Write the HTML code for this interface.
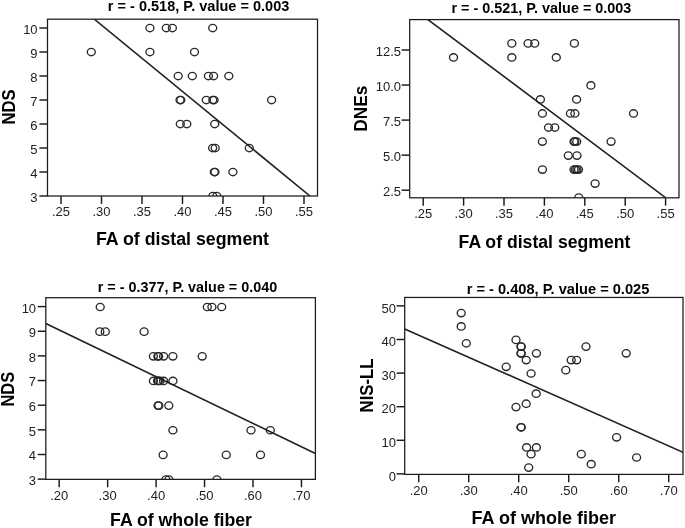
<!DOCTYPE html>
<html><head><meta charset="utf-8"><title>Scatter plots</title>
<style>
html,body{margin:0;padding:0;background:#fff;}
body{width:685px;height:528px;overflow:hidden;}
svg{display:block;font-family:"Liberation Sans", sans-serif;filter:grayscale(1);}
</style></head><body>
<svg width="685" height="528" viewBox="0 0 685 528">
<rect width="685" height="528" fill="#fff"/>
<line x1="39.4" y1="196" x2="47.5" y2="196" stroke="#1a1a1a" stroke-width="1.45"/>
<text x="37.6" y="202.3" font-size="13" text-anchor="end" fill="#222">3</text>
<line x1="39.4" y1="172" x2="47.5" y2="172" stroke="#1a1a1a" stroke-width="1.45"/>
<text x="37.6" y="178.3" font-size="13" text-anchor="end" fill="#222">4</text>
<line x1="39.4" y1="148" x2="47.5" y2="148" stroke="#1a1a1a" stroke-width="1.45"/>
<text x="37.6" y="154.3" font-size="13" text-anchor="end" fill="#222">5</text>
<line x1="39.4" y1="124" x2="47.5" y2="124" stroke="#1a1a1a" stroke-width="1.45"/>
<text x="37.6" y="130.3" font-size="13" text-anchor="end" fill="#222">6</text>
<line x1="39.4" y1="100" x2="47.5" y2="100" stroke="#1a1a1a" stroke-width="1.45"/>
<text x="37.6" y="106.3" font-size="13" text-anchor="end" fill="#222">7</text>
<line x1="39.4" y1="76" x2="47.5" y2="76" stroke="#1a1a1a" stroke-width="1.45"/>
<text x="37.6" y="82.3" font-size="13" text-anchor="end" fill="#222">8</text>
<line x1="39.4" y1="52" x2="47.5" y2="52" stroke="#1a1a1a" stroke-width="1.45"/>
<text x="37.6" y="58.3" font-size="13" text-anchor="end" fill="#222">9</text>
<line x1="39.4" y1="28" x2="47.5" y2="28" stroke="#1a1a1a" stroke-width="1.45"/>
<text x="37.6" y="34.3" font-size="13" text-anchor="end" fill="#222">10</text>
<line x1="61" y1="196" x2="61" y2="203.9" stroke="#1a1a1a" stroke-width="1.45"/>
<text x="61" y="216" font-size="13" text-anchor="middle" fill="#222">.25</text>
<line x1="101.5" y1="196" x2="101.5" y2="203.9" stroke="#1a1a1a" stroke-width="1.45"/>
<text x="101.5" y="216" font-size="13" text-anchor="middle" fill="#222">.30</text>
<line x1="142" y1="196" x2="142" y2="203.9" stroke="#1a1a1a" stroke-width="1.45"/>
<text x="142" y="216" font-size="13" text-anchor="middle" fill="#222">.35</text>
<line x1="182.5" y1="196" x2="182.5" y2="203.9" stroke="#1a1a1a" stroke-width="1.45"/>
<text x="182.5" y="216" font-size="13" text-anchor="middle" fill="#222">.40</text>
<line x1="223" y1="196" x2="223" y2="203.9" stroke="#1a1a1a" stroke-width="1.45"/>
<text x="223" y="216" font-size="13" text-anchor="middle" fill="#222">.45</text>
<line x1="263.5" y1="196" x2="263.5" y2="203.9" stroke="#1a1a1a" stroke-width="1.45"/>
<text x="263.5" y="216" font-size="13" text-anchor="middle" fill="#222">.50</text>
<line x1="304" y1="196" x2="304" y2="203.9" stroke="#1a1a1a" stroke-width="1.45"/>
<text x="304" y="216" font-size="13" text-anchor="middle" fill="#222">.55</text>
<clipPath id="c0"><rect x="47.5" y="19.2" width="270" height="176.8"/></clipPath>
<g clip-path="url(#c0)">
<ellipse cx="149.9" cy="28" rx="4.0" ry="3.7" fill="none" stroke="#2a2a2a" stroke-width="1.35"/>
<ellipse cx="166.3" cy="28" rx="4.0" ry="3.7" fill="none" stroke="#2a2a2a" stroke-width="1.35"/>
<ellipse cx="172.4" cy="28" rx="4.0" ry="3.7" fill="none" stroke="#2a2a2a" stroke-width="1.35"/>
<ellipse cx="212.7" cy="28" rx="4.0" ry="3.7" fill="none" stroke="#2a2a2a" stroke-width="1.35"/>
<ellipse cx="91.3" cy="52" rx="4.0" ry="3.7" fill="none" stroke="#2a2a2a" stroke-width="1.35"/>
<ellipse cx="149.9" cy="52" rx="4.0" ry="3.7" fill="none" stroke="#2a2a2a" stroke-width="1.35"/>
<ellipse cx="194.5" cy="52" rx="4.0" ry="3.7" fill="none" stroke="#2a2a2a" stroke-width="1.35"/>
<ellipse cx="178.2" cy="76" rx="4.0" ry="3.7" fill="none" stroke="#2a2a2a" stroke-width="1.35"/>
<ellipse cx="192.3" cy="76" rx="4.0" ry="3.7" fill="none" stroke="#2a2a2a" stroke-width="1.35"/>
<ellipse cx="208.4" cy="76" rx="4.0" ry="3.7" fill="none" stroke="#2a2a2a" stroke-width="1.35"/>
<ellipse cx="213.6" cy="76" rx="4.0" ry="3.7" fill="none" stroke="#2a2a2a" stroke-width="1.35"/>
<ellipse cx="228.8" cy="76" rx="4.0" ry="3.7" fill="none" stroke="#2a2a2a" stroke-width="1.35"/>
<ellipse cx="180" cy="100" rx="4.0" ry="3.7" fill="none" stroke="#2a2a2a" stroke-width="1.35"/>
<ellipse cx="180.8" cy="100" rx="4.0" ry="3.7" fill="none" stroke="#2a2a2a" stroke-width="1.35"/>
<ellipse cx="206.3" cy="100" rx="4.0" ry="3.7" fill="none" stroke="#2a2a2a" stroke-width="1.35"/>
<ellipse cx="212.8" cy="100" rx="4.0" ry="3.7" fill="none" stroke="#2a2a2a" stroke-width="1.35"/>
<ellipse cx="214.1" cy="100" rx="4.0" ry="3.7" fill="none" stroke="#2a2a2a" stroke-width="1.35"/>
<ellipse cx="271.6" cy="100" rx="4.0" ry="3.7" fill="none" stroke="#2a2a2a" stroke-width="1.35"/>
<ellipse cx="180.3" cy="124" rx="4.0" ry="3.7" fill="none" stroke="#2a2a2a" stroke-width="1.35"/>
<ellipse cx="186.8" cy="124" rx="4.0" ry="3.7" fill="none" stroke="#2a2a2a" stroke-width="1.35"/>
<ellipse cx="214.7" cy="124" rx="4.0" ry="3.7" fill="none" stroke="#2a2a2a" stroke-width="1.35"/>
<ellipse cx="212.6" cy="148" rx="4.0" ry="3.7" fill="none" stroke="#2a2a2a" stroke-width="1.35"/>
<ellipse cx="215.2" cy="148" rx="4.0" ry="3.7" fill="none" stroke="#2a2a2a" stroke-width="1.35"/>
<ellipse cx="249.3" cy="148" rx="4.0" ry="3.7" fill="none" stroke="#2a2a2a" stroke-width="1.35"/>
<ellipse cx="214.3" cy="172" rx="4.0" ry="3.7" fill="none" stroke="#2a2a2a" stroke-width="1.35"/>
<ellipse cx="215" cy="172" rx="4.0" ry="3.7" fill="none" stroke="#2a2a2a" stroke-width="1.35"/>
<ellipse cx="232.9" cy="172" rx="4.0" ry="3.7" fill="none" stroke="#2a2a2a" stroke-width="1.35"/>
<ellipse cx="212.8" cy="196" rx="4.0" ry="3.7" fill="none" stroke="#2a2a2a" stroke-width="1.35"/>
<ellipse cx="216.8" cy="196" rx="4.0" ry="3.7" fill="none" stroke="#2a2a2a" stroke-width="1.35"/>
<line x1="94.3" y1="19.2" x2="310" y2="196" stroke="#202020" stroke-width="1.6"/>
</g>
<rect x="47.5" y="19.2" width="270" height="176.8" fill="none" stroke="#1a1a1a" stroke-width="1.25"/>
<text x="107.8" y="11.4" font-size="15" font-weight="bold" textLength="181.55" lengthAdjust="spacingAndGlyphs">r = - 0.518, P. value = 0.003</text>
<text x="96" y="244.9" font-size="17.5" font-weight="bold" textLength="173.03" lengthAdjust="spacingAndGlyphs">FA of distal segment</text>
<text transform="translate(15.3,124.47) rotate(-90)" x="0" y="0" font-size="18" font-weight="bold" textLength="35.11" lengthAdjust="spacingAndGlyphs">NDS</text>
<line x1="401.6" y1="190.2" x2="409.7" y2="190.2" stroke="#1a1a1a" stroke-width="1.45"/>
<text x="401" y="196" font-size="13" text-anchor="end" fill="#222">2.5</text>
<line x1="401.6" y1="155.15" x2="409.7" y2="155.15" stroke="#1a1a1a" stroke-width="1.45"/>
<text x="401" y="160.95" font-size="13" text-anchor="end" fill="#222">5.0</text>
<line x1="401.6" y1="120.1" x2="409.7" y2="120.1" stroke="#1a1a1a" stroke-width="1.45"/>
<text x="401" y="125.9" font-size="13" text-anchor="end" fill="#222">7.5</text>
<line x1="401.6" y1="85.05" x2="409.7" y2="85.05" stroke="#1a1a1a" stroke-width="1.45"/>
<text x="401" y="90.85" font-size="13" text-anchor="end" fill="#222">10.0</text>
<line x1="401.6" y1="50" x2="409.7" y2="50" stroke="#1a1a1a" stroke-width="1.45"/>
<text x="401" y="55.8" font-size="13" text-anchor="end" fill="#222">12.5</text>
<line x1="423.2" y1="197.8" x2="423.2" y2="205.7" stroke="#1a1a1a" stroke-width="1.45"/>
<text x="423.2" y="218" font-size="13" text-anchor="middle" fill="#222">.25</text>
<line x1="463.6" y1="197.8" x2="463.6" y2="205.7" stroke="#1a1a1a" stroke-width="1.45"/>
<text x="463.6" y="218" font-size="13" text-anchor="middle" fill="#222">.30</text>
<line x1="504" y1="197.8" x2="504" y2="205.7" stroke="#1a1a1a" stroke-width="1.45"/>
<text x="504" y="218" font-size="13" text-anchor="middle" fill="#222">.35</text>
<line x1="544.4" y1="197.8" x2="544.4" y2="205.7" stroke="#1a1a1a" stroke-width="1.45"/>
<text x="544.4" y="218" font-size="13" text-anchor="middle" fill="#222">.40</text>
<line x1="584.8" y1="197.8" x2="584.8" y2="205.7" stroke="#1a1a1a" stroke-width="1.45"/>
<text x="584.8" y="218" font-size="13" text-anchor="middle" fill="#222">.45</text>
<line x1="625.2" y1="197.8" x2="625.2" y2="205.7" stroke="#1a1a1a" stroke-width="1.45"/>
<text x="625.2" y="218" font-size="13" text-anchor="middle" fill="#222">.50</text>
<line x1="665.6" y1="197.8" x2="665.6" y2="205.7" stroke="#1a1a1a" stroke-width="1.45"/>
<text x="665.6" y="218" font-size="13" text-anchor="middle" fill="#222">.55</text>
<clipPath id="c1"><rect x="409.7" y="19.6" width="269.3" height="178.2"/></clipPath>
<g clip-path="url(#c1)">
<ellipse cx="511.8" cy="43.39" rx="4.0" ry="3.7" fill="none" stroke="#2a2a2a" stroke-width="1.35"/>
<ellipse cx="528.1" cy="43.39" rx="4.0" ry="3.7" fill="none" stroke="#2a2a2a" stroke-width="1.35"/>
<ellipse cx="534.7" cy="43.39" rx="4.0" ry="3.7" fill="none" stroke="#2a2a2a" stroke-width="1.35"/>
<ellipse cx="574.4" cy="43.39" rx="4.0" ry="3.7" fill="none" stroke="#2a2a2a" stroke-width="1.35"/>
<ellipse cx="453.5" cy="57.41" rx="4.0" ry="3.7" fill="none" stroke="#2a2a2a" stroke-width="1.35"/>
<ellipse cx="511.8" cy="57.41" rx="4.0" ry="3.7" fill="none" stroke="#2a2a2a" stroke-width="1.35"/>
<ellipse cx="556.3" cy="57.41" rx="4.0" ry="3.7" fill="none" stroke="#2a2a2a" stroke-width="1.35"/>
<ellipse cx="590.9" cy="85.45" rx="4.0" ry="3.7" fill="none" stroke="#2a2a2a" stroke-width="1.35"/>
<ellipse cx="540.4" cy="99.47" rx="4.0" ry="3.7" fill="none" stroke="#2a2a2a" stroke-width="1.35"/>
<ellipse cx="576.6" cy="99.47" rx="4.0" ry="3.7" fill="none" stroke="#2a2a2a" stroke-width="1.35"/>
<ellipse cx="542.4" cy="113.49" rx="4.0" ry="3.7" fill="none" stroke="#2a2a2a" stroke-width="1.35"/>
<ellipse cx="570.4" cy="113.49" rx="4.0" ry="3.7" fill="none" stroke="#2a2a2a" stroke-width="1.35"/>
<ellipse cx="574.9" cy="113.49" rx="4.0" ry="3.7" fill="none" stroke="#2a2a2a" stroke-width="1.35"/>
<ellipse cx="633.5" cy="113.49" rx="4.0" ry="3.7" fill="none" stroke="#2a2a2a" stroke-width="1.35"/>
<ellipse cx="548.5" cy="127.51" rx="4.0" ry="3.7" fill="none" stroke="#2a2a2a" stroke-width="1.35"/>
<ellipse cx="554.8" cy="127.51" rx="4.0" ry="3.7" fill="none" stroke="#2a2a2a" stroke-width="1.35"/>
<ellipse cx="542.4" cy="141.53" rx="4.0" ry="3.7" fill="none" stroke="#2a2a2a" stroke-width="1.35"/>
<ellipse cx="574" cy="141.53" rx="4.0" ry="3.7" fill="none" stroke="#2a2a2a" stroke-width="1.35"/>
<ellipse cx="574.8" cy="141.53" rx="4.0" ry="3.7" fill="none" stroke="#2a2a2a" stroke-width="1.35"/>
<ellipse cx="576.7" cy="141.53" rx="4.0" ry="3.7" fill="none" stroke="#2a2a2a" stroke-width="1.35"/>
<ellipse cx="611.1" cy="141.53" rx="4.0" ry="3.7" fill="none" stroke="#2a2a2a" stroke-width="1.35"/>
<ellipse cx="568.3" cy="155.55" rx="4.0" ry="3.7" fill="none" stroke="#2a2a2a" stroke-width="1.35"/>
<ellipse cx="577" cy="155.55" rx="4.0" ry="3.7" fill="none" stroke="#2a2a2a" stroke-width="1.35"/>
<ellipse cx="542.4" cy="169.57" rx="4.0" ry="3.7" fill="none" stroke="#2a2a2a" stroke-width="1.35"/>
<ellipse cx="574" cy="169.57" rx="4.0" ry="3.7" fill="none" stroke="#2a2a2a" stroke-width="1.35"/>
<ellipse cx="575.5" cy="169.57" rx="4.0" ry="3.7" fill="none" stroke="#2a2a2a" stroke-width="1.35"/>
<ellipse cx="577" cy="169.57" rx="4.0" ry="3.7" fill="none" stroke="#2a2a2a" stroke-width="1.35"/>
<ellipse cx="578.5" cy="169.57" rx="4.0" ry="3.7" fill="none" stroke="#2a2a2a" stroke-width="1.35"/>
<ellipse cx="595.1" cy="183.59" rx="4.0" ry="3.7" fill="none" stroke="#2a2a2a" stroke-width="1.35"/>
<ellipse cx="578.8" cy="197.61" rx="4.0" ry="3.7" fill="none" stroke="#2a2a2a" stroke-width="1.35"/>
<line x1="427.9" y1="19.6" x2="665.8" y2="197.8" stroke="#202020" stroke-width="1.6"/>
</g>
<rect x="409.7" y="19.6" width="269.3" height="178.2" fill="none" stroke="#1a1a1a" stroke-width="1.25"/>
<text x="451.5" y="12.6" font-size="15" font-weight="bold" textLength="179.85" lengthAdjust="spacingAndGlyphs">r = - 0.521, P. value = 0.003</text>
<text x="458.6" y="247.6" font-size="17.5" font-weight="bold" textLength="171.82" lengthAdjust="spacingAndGlyphs">FA of distal segment</text>
<text transform="translate(367,131.72) rotate(-90)" x="0" y="0" font-size="18" font-weight="bold" textLength="46.01" lengthAdjust="spacingAndGlyphs">DNEs</text>
<line x1="37.7" y1="479.15" x2="45.8" y2="479.15" stroke="#1a1a1a" stroke-width="1.45"/>
<text x="36.1" y="485.05" font-size="13" text-anchor="end" fill="#222">3</text>
<line x1="37.7" y1="454.5" x2="45.8" y2="454.5" stroke="#1a1a1a" stroke-width="1.45"/>
<text x="36.1" y="460.4" font-size="13" text-anchor="end" fill="#222">4</text>
<line x1="37.7" y1="429.85" x2="45.8" y2="429.85" stroke="#1a1a1a" stroke-width="1.45"/>
<text x="36.1" y="435.75" font-size="13" text-anchor="end" fill="#222">5</text>
<line x1="37.7" y1="405.2" x2="45.8" y2="405.2" stroke="#1a1a1a" stroke-width="1.45"/>
<text x="36.1" y="411.1" font-size="13" text-anchor="end" fill="#222">6</text>
<line x1="37.7" y1="380.55" x2="45.8" y2="380.55" stroke="#1a1a1a" stroke-width="1.45"/>
<text x="36.1" y="386.45" font-size="13" text-anchor="end" fill="#222">7</text>
<line x1="37.7" y1="355.9" x2="45.8" y2="355.9" stroke="#1a1a1a" stroke-width="1.45"/>
<text x="36.1" y="361.8" font-size="13" text-anchor="end" fill="#222">8</text>
<line x1="37.7" y1="331.25" x2="45.8" y2="331.25" stroke="#1a1a1a" stroke-width="1.45"/>
<text x="36.1" y="337.15" font-size="13" text-anchor="end" fill="#222">9</text>
<line x1="37.7" y1="306.6" x2="45.8" y2="306.6" stroke="#1a1a1a" stroke-width="1.45"/>
<text x="36.1" y="312.5" font-size="13" text-anchor="end" fill="#222">10</text>
<line x1="59.2" y1="479.35" x2="59.2" y2="487.25" stroke="#1a1a1a" stroke-width="1.45"/>
<text x="59.2" y="499.6" font-size="13" text-anchor="middle" fill="#222">.20</text>
<line x1="107.65" y1="479.35" x2="107.65" y2="487.25" stroke="#1a1a1a" stroke-width="1.45"/>
<text x="107.65" y="499.6" font-size="13" text-anchor="middle" fill="#222">.30</text>
<line x1="156.1" y1="479.35" x2="156.1" y2="487.25" stroke="#1a1a1a" stroke-width="1.45"/>
<text x="156.1" y="499.6" font-size="13" text-anchor="middle" fill="#222">.40</text>
<line x1="204.55" y1="479.35" x2="204.55" y2="487.25" stroke="#1a1a1a" stroke-width="1.45"/>
<text x="204.55" y="499.6" font-size="13" text-anchor="middle" fill="#222">.50</text>
<line x1="253" y1="479.35" x2="253" y2="487.25" stroke="#1a1a1a" stroke-width="1.45"/>
<text x="253" y="499.6" font-size="13" text-anchor="middle" fill="#222">.60</text>
<line x1="301.45" y1="479.35" x2="301.45" y2="487.25" stroke="#1a1a1a" stroke-width="1.45"/>
<text x="301.45" y="499.6" font-size="13" text-anchor="middle" fill="#222">.70</text>
<clipPath id="c2"><rect x="45.8" y="297.7" width="269.6" height="181.65"/></clipPath>
<g clip-path="url(#c2)">
<ellipse cx="100.2" cy="307" rx="4.0" ry="3.7" fill="none" stroke="#2a2a2a" stroke-width="1.35"/>
<ellipse cx="207.3" cy="307" rx="4.0" ry="3.7" fill="none" stroke="#2a2a2a" stroke-width="1.35"/>
<ellipse cx="211.9" cy="307" rx="4.0" ry="3.7" fill="none" stroke="#2a2a2a" stroke-width="1.35"/>
<ellipse cx="221.7" cy="307" rx="4.0" ry="3.7" fill="none" stroke="#2a2a2a" stroke-width="1.35"/>
<ellipse cx="99.8" cy="331.65" rx="4.0" ry="3.7" fill="none" stroke="#2a2a2a" stroke-width="1.35"/>
<ellipse cx="105.3" cy="331.65" rx="4.0" ry="3.7" fill="none" stroke="#2a2a2a" stroke-width="1.35"/>
<ellipse cx="144.1" cy="331.65" rx="4.0" ry="3.7" fill="none" stroke="#2a2a2a" stroke-width="1.35"/>
<ellipse cx="153.4" cy="356.3" rx="4.0" ry="3.7" fill="none" stroke="#2a2a2a" stroke-width="1.35"/>
<ellipse cx="157.8" cy="356.3" rx="4.0" ry="3.7" fill="none" stroke="#2a2a2a" stroke-width="1.35"/>
<ellipse cx="158.6" cy="356.3" rx="4.0" ry="3.7" fill="none" stroke="#2a2a2a" stroke-width="1.35"/>
<ellipse cx="163.6" cy="356.3" rx="4.0" ry="3.7" fill="none" stroke="#2a2a2a" stroke-width="1.35"/>
<ellipse cx="172.9" cy="356.3" rx="4.0" ry="3.7" fill="none" stroke="#2a2a2a" stroke-width="1.35"/>
<ellipse cx="202.2" cy="356.3" rx="4.0" ry="3.7" fill="none" stroke="#2a2a2a" stroke-width="1.35"/>
<ellipse cx="153.4" cy="380.95" rx="4.0" ry="3.7" fill="none" stroke="#2a2a2a" stroke-width="1.35"/>
<ellipse cx="157.6" cy="380.95" rx="4.0" ry="3.7" fill="none" stroke="#2a2a2a" stroke-width="1.35"/>
<ellipse cx="158.4" cy="380.95" rx="4.0" ry="3.7" fill="none" stroke="#2a2a2a" stroke-width="1.35"/>
<ellipse cx="160" cy="380.95" rx="4.0" ry="3.7" fill="none" stroke="#2a2a2a" stroke-width="1.35"/>
<ellipse cx="163.6" cy="380.95" rx="4.0" ry="3.7" fill="none" stroke="#2a2a2a" stroke-width="1.35"/>
<ellipse cx="172.9" cy="380.95" rx="4.0" ry="3.7" fill="none" stroke="#2a2a2a" stroke-width="1.35"/>
<ellipse cx="158" cy="405.6" rx="4.0" ry="3.7" fill="none" stroke="#2a2a2a" stroke-width="1.35"/>
<ellipse cx="158.8" cy="405.6" rx="4.0" ry="3.7" fill="none" stroke="#2a2a2a" stroke-width="1.35"/>
<ellipse cx="168.8" cy="405.6" rx="4.0" ry="3.7" fill="none" stroke="#2a2a2a" stroke-width="1.35"/>
<ellipse cx="172.9" cy="430.25" rx="4.0" ry="3.7" fill="none" stroke="#2a2a2a" stroke-width="1.35"/>
<ellipse cx="251" cy="430.25" rx="4.0" ry="3.7" fill="none" stroke="#2a2a2a" stroke-width="1.35"/>
<ellipse cx="270.3" cy="430.25" rx="4.0" ry="3.7" fill="none" stroke="#2a2a2a" stroke-width="1.35"/>
<ellipse cx="163.1" cy="454.9" rx="4.0" ry="3.7" fill="none" stroke="#2a2a2a" stroke-width="1.35"/>
<ellipse cx="226.3" cy="454.9" rx="4.0" ry="3.7" fill="none" stroke="#2a2a2a" stroke-width="1.35"/>
<ellipse cx="260.5" cy="454.9" rx="4.0" ry="3.7" fill="none" stroke="#2a2a2a" stroke-width="1.35"/>
<ellipse cx="165.9" cy="479.55" rx="4.0" ry="3.7" fill="none" stroke="#2a2a2a" stroke-width="1.35"/>
<ellipse cx="168.9" cy="479.55" rx="4.0" ry="3.7" fill="none" stroke="#2a2a2a" stroke-width="1.35"/>
<ellipse cx="216.9" cy="479.55" rx="4.0" ry="3.7" fill="none" stroke="#2a2a2a" stroke-width="1.35"/>
<line x1="45.8" y1="323.5" x2="315.4" y2="453.5" stroke="#202020" stroke-width="1.6"/>
</g>
<rect x="45.8" y="297.7" width="269.6" height="181.65" fill="none" stroke="#1a1a1a" stroke-width="1.25"/>
<text x="97.7" y="291.8" font-size="15" font-weight="bold" textLength="179.55" lengthAdjust="spacingAndGlyphs">r = - 0.377, P. value = 0.040</text>
<text x="110.1" y="526.3" font-size="17.5" font-weight="bold" textLength="141.92" lengthAdjust="spacingAndGlyphs">FA of whole fiber</text>
<text transform="translate(13.8,406.52) rotate(-90)" x="0" y="0" font-size="18" font-weight="bold" textLength="34.76" lengthAdjust="spacingAndGlyphs">NDS</text>
<line x1="396.6" y1="473.9" x2="404.7" y2="473.9" stroke="#1a1a1a" stroke-width="1.45"/>
<text x="395.9" y="480.5" font-size="13" text-anchor="end" fill="#222">0</text>
<line x1="396.6" y1="440.3" x2="404.7" y2="440.3" stroke="#1a1a1a" stroke-width="1.45"/>
<text x="395.9" y="446.9" font-size="13" text-anchor="end" fill="#222">10</text>
<line x1="396.6" y1="406.7" x2="404.7" y2="406.7" stroke="#1a1a1a" stroke-width="1.45"/>
<text x="395.9" y="413.3" font-size="13" text-anchor="end" fill="#222">20</text>
<line x1="396.6" y1="373.1" x2="404.7" y2="373.1" stroke="#1a1a1a" stroke-width="1.45"/>
<text x="395.9" y="379.7" font-size="13" text-anchor="end" fill="#222">30</text>
<line x1="396.6" y1="339.5" x2="404.7" y2="339.5" stroke="#1a1a1a" stroke-width="1.45"/>
<text x="395.9" y="346.1" font-size="13" text-anchor="end" fill="#222">40</text>
<line x1="396.6" y1="305.9" x2="404.7" y2="305.9" stroke="#1a1a1a" stroke-width="1.45"/>
<text x="395.9" y="312.5" font-size="13" text-anchor="end" fill="#222">50</text>
<line x1="418.7" y1="474.4" x2="418.7" y2="482.3" stroke="#1a1a1a" stroke-width="1.45"/>
<text x="418.7" y="494.6" font-size="13" text-anchor="middle" fill="#222">.20</text>
<line x1="468.7" y1="474.4" x2="468.7" y2="482.3" stroke="#1a1a1a" stroke-width="1.45"/>
<text x="468.7" y="494.6" font-size="13" text-anchor="middle" fill="#222">.30</text>
<line x1="518.7" y1="474.4" x2="518.7" y2="482.3" stroke="#1a1a1a" stroke-width="1.45"/>
<text x="518.7" y="494.6" font-size="13" text-anchor="middle" fill="#222">.40</text>
<line x1="568.7" y1="474.4" x2="568.7" y2="482.3" stroke="#1a1a1a" stroke-width="1.45"/>
<text x="568.7" y="494.6" font-size="13" text-anchor="middle" fill="#222">.50</text>
<line x1="618.7" y1="474.4" x2="618.7" y2="482.3" stroke="#1a1a1a" stroke-width="1.45"/>
<text x="618.7" y="494.6" font-size="13" text-anchor="middle" fill="#222">.60</text>
<line x1="668.7" y1="474.4" x2="668.7" y2="482.3" stroke="#1a1a1a" stroke-width="1.45"/>
<text x="668.7" y="494.6" font-size="13" text-anchor="middle" fill="#222">.70</text>
<clipPath id="c3"><rect x="404.7" y="297.45" width="278.3" height="176.95"/></clipPath>
<g clip-path="url(#c3)">
<ellipse cx="461.2" cy="313.02" rx="4.0" ry="3.7" fill="none" stroke="#2a2a2a" stroke-width="1.35"/>
<ellipse cx="461.2" cy="326.46" rx="4.0" ry="3.7" fill="none" stroke="#2a2a2a" stroke-width="1.35"/>
<ellipse cx="466.3" cy="343.26" rx="4.0" ry="3.7" fill="none" stroke="#2a2a2a" stroke-width="1.35"/>
<ellipse cx="516" cy="339.9" rx="4.0" ry="3.7" fill="none" stroke="#2a2a2a" stroke-width="1.35"/>
<ellipse cx="520.9" cy="346.62" rx="4.0" ry="3.7" fill="none" stroke="#2a2a2a" stroke-width="1.35"/>
<ellipse cx="521.3" cy="346.62" rx="4.0" ry="3.7" fill="none" stroke="#2a2a2a" stroke-width="1.35"/>
<ellipse cx="520.9" cy="353.34" rx="4.0" ry="3.7" fill="none" stroke="#2a2a2a" stroke-width="1.35"/>
<ellipse cx="521.3" cy="353.34" rx="4.0" ry="3.7" fill="none" stroke="#2a2a2a" stroke-width="1.35"/>
<ellipse cx="526.2" cy="360.06" rx="4.0" ry="3.7" fill="none" stroke="#2a2a2a" stroke-width="1.35"/>
<ellipse cx="536.4" cy="353.34" rx="4.0" ry="3.7" fill="none" stroke="#2a2a2a" stroke-width="1.35"/>
<ellipse cx="506.2" cy="366.78" rx="4.0" ry="3.7" fill="none" stroke="#2a2a2a" stroke-width="1.35"/>
<ellipse cx="531.1" cy="373.5" rx="4.0" ry="3.7" fill="none" stroke="#2a2a2a" stroke-width="1.35"/>
<ellipse cx="586" cy="346.62" rx="4.0" ry="3.7" fill="none" stroke="#2a2a2a" stroke-width="1.35"/>
<ellipse cx="626.2" cy="353.34" rx="4.0" ry="3.7" fill="none" stroke="#2a2a2a" stroke-width="1.35"/>
<ellipse cx="571.2" cy="360.06" rx="4.0" ry="3.7" fill="none" stroke="#2a2a2a" stroke-width="1.35"/>
<ellipse cx="576.6" cy="360.06" rx="4.0" ry="3.7" fill="none" stroke="#2a2a2a" stroke-width="1.35"/>
<ellipse cx="565.8" cy="370.14" rx="4.0" ry="3.7" fill="none" stroke="#2a2a2a" stroke-width="1.35"/>
<ellipse cx="536.2" cy="393.66" rx="4.0" ry="3.7" fill="none" stroke="#2a2a2a" stroke-width="1.35"/>
<ellipse cx="526.2" cy="403.74" rx="4.0" ry="3.7" fill="none" stroke="#2a2a2a" stroke-width="1.35"/>
<ellipse cx="516" cy="407.1" rx="4.0" ry="3.7" fill="none" stroke="#2a2a2a" stroke-width="1.35"/>
<ellipse cx="520.9" cy="427.26" rx="4.0" ry="3.7" fill="none" stroke="#2a2a2a" stroke-width="1.35"/>
<ellipse cx="521.3" cy="427.26" rx="4.0" ry="3.7" fill="none" stroke="#2a2a2a" stroke-width="1.35"/>
<ellipse cx="526.6" cy="447.42" rx="4.0" ry="3.7" fill="none" stroke="#2a2a2a" stroke-width="1.35"/>
<ellipse cx="536.4" cy="447.42" rx="4.0" ry="3.7" fill="none" stroke="#2a2a2a" stroke-width="1.35"/>
<ellipse cx="531.1" cy="454.14" rx="4.0" ry="3.7" fill="none" stroke="#2a2a2a" stroke-width="1.35"/>
<ellipse cx="528.7" cy="467.58" rx="4.0" ry="3.7" fill="none" stroke="#2a2a2a" stroke-width="1.35"/>
<ellipse cx="616.6" cy="437.34" rx="4.0" ry="3.7" fill="none" stroke="#2a2a2a" stroke-width="1.35"/>
<ellipse cx="581.3" cy="454.14" rx="4.0" ry="3.7" fill="none" stroke="#2a2a2a" stroke-width="1.35"/>
<ellipse cx="591.2" cy="464.22" rx="4.0" ry="3.7" fill="none" stroke="#2a2a2a" stroke-width="1.35"/>
<ellipse cx="636.6" cy="457.5" rx="4.0" ry="3.7" fill="none" stroke="#2a2a2a" stroke-width="1.35"/>
<line x1="404.7" y1="328.9" x2="683" y2="452.3" stroke="#202020" stroke-width="1.6"/>
</g>
<rect x="404.7" y="297.45" width="278.3" height="176.95" fill="none" stroke="#1a1a1a" stroke-width="1.25"/>
<text x="466.7" y="293.8" font-size="15" font-weight="bold" textLength="182.65" lengthAdjust="spacingAndGlyphs">r = - 0.408, P. value = 0.025</text>
<text x="471.5" y="523.6" font-size="17.5" font-weight="bold" textLength="144.63" lengthAdjust="spacingAndGlyphs">FA of whole fiber</text>
<text transform="translate(372.5,412.42) rotate(-90)" x="0" y="0" font-size="18" font-weight="bold" textLength="53.96" lengthAdjust="spacingAndGlyphs">NIS-LL</text>
</svg>
</body></html>
